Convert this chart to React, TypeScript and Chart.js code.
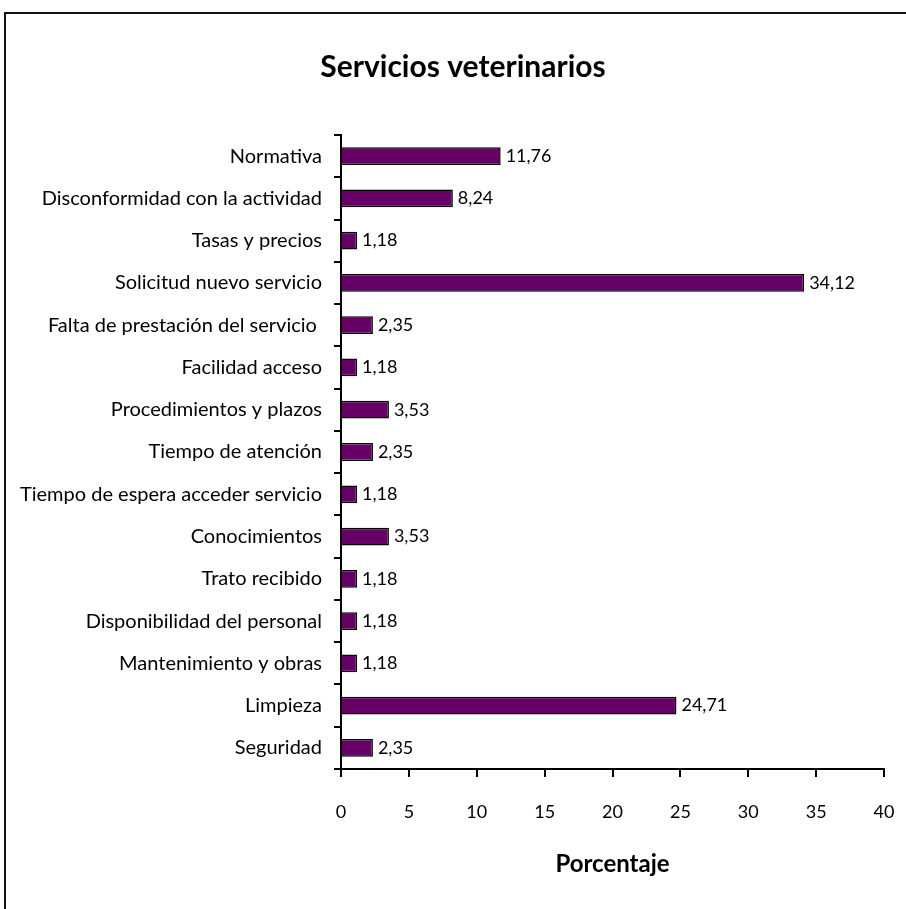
import React, { useEffect, useRef } from "react";
import { Chart, registerables } from "chart.js";

Chart.register(...registerables);

const categories = [
  "Normativa",
  "Disconformidad con la actividad",
  "Tasas y precios",
  "Solicitud nuevo servicio",
  "Falta de prestación del servicio ",
  "Facilidad acceso",
  "Procedimientos y plazos",
  "Tiempo de atención",
  "Tiempo de espera acceder servicio",
  "Conocimientos",
  "Trato recibido",
  "Disponibilidad del personal",
  "Mantenimiento y obras",
  "Limpieza",
  "Seguridad",
];

const values = [11.76, 8.24, 1.18, 34.12, 2.35, 1.18, 3.53, 2.35, 1.18, 3.53, 1.18, 1.18, 1.18, 24.71, 2.35];

const titleText = "Servicios veterinarios";
const xAxisTitle = "Porcentaje";
const xMin = 0;
const xMax = 40;
const xStep = 5;

const FONT = "Lato, 'Open Sans', sans-serif";

export default function App() {
  const ref = useRef<HTMLCanvasElement | null>(null);

  useEffect(() => {
    if (!ref.current) return;

    const labelPlugin = {
      id: "valueLabels",
      afterDatasetsDraw(chart: any) {
        const ctx = chart.ctx;
        const meta = chart.getDatasetMeta(0);
        ctx.save();
        ctx.font = `18px ${FONT}`;
        ctx.fillStyle = "#000";
        ctx.textAlign = "left";
        ctx.textBaseline = "middle";
        meta.data.forEach((bar: any, i: number) => {
          const v = chart.data.datasets[0].data[i] as number;
          ctx.fillText(v.toFixed(2).replace(".", ","), bar.x + 5, bar.y);
        });
        ctx.restore();
      },
    };

    const titlePlugin = {
      id: "customTitle",
      afterDraw(chart: any) {
        const ctx = chart.ctx;
        ctx.save();
        ctx.font = `bold 30px ${FONT}`;
        ctx.fillStyle = "#000";
        ctx.textAlign = "center";
        ctx.textBaseline = "middle";
        ctx.fillText(titleText, 463, 67);
        ctx.restore();
      },
    };

    const chart = new Chart(ref.current, {
      type: "bar",
      data: {
        labels: categories,
        datasets: [
          {
            data: values,
            backgroundColor: "#660066",
            borderColor: "#000000",
            borderWidth: 1.5,
            barPercentage: 0.42,
            categoryPercentage: 1,
          },
        ],
      },
      options: {
        indexAxis: "y",
        responsive: false,
        animation: false,
        devicePixelRatio: 1,
        layout: { padding: { top: 135, right: 22, left: 0, bottom: 0 } },
        plugins: {
          legend: { display: false },
          title: { display: false },
          tooltip: { enabled: false },
        },
        scales: {
          x: {
            type: "linear",
            min: xMin,
            max: xMax,
            ticks: {
              stepSize: xStep,
              color: "#000",
              font: { family: FONT, size: 18 },
              padding: 24,
            },
            grid: {
              drawOnChartArea: false,
              drawTicks: true,
              tickLength: 8,
              color: "#000",
              lineWidth: 2,
            },
            border: { display: true, color: "#000", width: 2 },
            title: {
              display: true,
              text: xAxisTitle,
              color: "#000",
              font: { family: FONT, size: 24, weight: "bold" },
              padding: { top: 0, bottom: 30 },
            },
            afterFit(scale: any) {
              scale.height = 140;
              scale.paddingLeft = 0;
              scale.paddingRight = 0;
            },
          },
          y: {
            type: "category",
            ticks: {
              color: "#000",
              font: { family: FONT, size: 20 },
              padding: 12,
              autoSkip: false,
            },
            grid: {
              drawOnChartArea: false,
              drawTicks: true,
              tickLength: 7,
              color: "#000",
              lineWidth: 2,
            },
            border: { display: true, color: "#000", width: 2 },
            afterFit(scale: any) {
              scale.width = 341;
              scale.paddingTop = 0;
              scale.paddingBottom = 0;
            },
          },
        },
      },
      plugins: [labelPlugin, titlePlugin],
    });

    return () => chart.destroy();
  }, []);

  return (
    <div
      style={{
        position: "absolute",
        left: 0,
        top: 0,
        width: 906,
        height: 909,
        overflow: "hidden",
        background: "#fff",
      }}
    >
      <div
        style={{
          position: "absolute",
          left: 4,
          top: 12,
          width: 1000,
          height: 1000,
          border: "2px solid #111",
        }}
      />
      <canvas
        ref={ref}
        width={906}
        height={909}
        style={{ position: "absolute", left: 0, top: 0, width: 906, height: 909 }}
      />
    </div>
  );
}
